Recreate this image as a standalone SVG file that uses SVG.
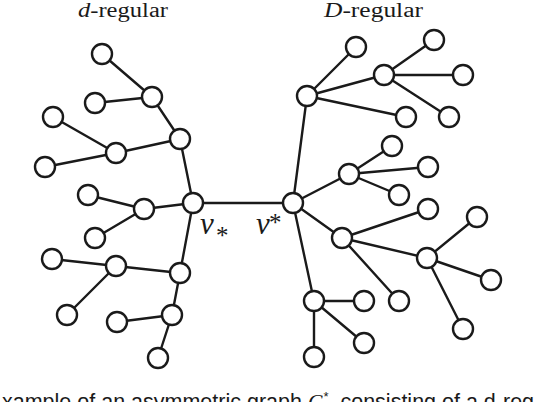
<svg xmlns="http://www.w3.org/2000/svg" width="536" height="402" viewBox="0 0 536 402">
<style>
.e{stroke:#1a1a1a;stroke-width:2.4;fill:none}
.n{fill:#fff;stroke:#1a1a1a;stroke-width:2.4}
.t{font-family:"Liberation Serif",serif;fill:#1a1a1a}
.c{font-family:"Liberation Sans",Arial,sans-serif;fill:#1a1a1a;font-size:21.5px}
</style>
<rect width="536" height="402" fill="#fff"/>
<g id="connectors">
<path class="e" d="M193,203H293
M102,54L152,97M95,103L152,97M152,97L180,139M53,117L116,153M45,167L116,153M116,153L180,139M180,139L193,203
M88,195L144,209M95,238L144,209M144,209L193,203
M193,203L180,273M52,259L116,266M116,266L180,273M116,266L67,315M180,273L172,315M117,322L172,315M172,315L158,358
M293,203L307,96M307,96L356,47M307,96L384,75M307,96L406,117M384,75L434,40M384,75L463,75M384,75L449,117
M293,203L349,174M349,174L392,146M349,174L428,167M349,174L399,195
M293,203L342,238M342,238L428,209M342,238L427,258M342,238L399,301M427,258L477,217M427,258L491,280M427,258L463,329
M293,203L314,301M314,301L364,301M314,301L364,343M314,301L314,357"/>
</g>
<g id="left-tree">
<circle class="n" cx="102" cy="54" r="10"/>
<circle class="n" cx="152" cy="97" r="10"/>
<circle class="n" cx="95" cy="103" r="10"/>
<circle class="n" cx="53" cy="117" r="10"/>
<circle class="n" cx="180" cy="139" r="10"/>
<circle class="n" cx="116" cy="153" r="10"/>
<circle class="n" cx="45" cy="167" r="10"/>
<circle class="n" cx="88" cy="195" r="10"/>
<circle class="n" cx="144" cy="209" r="10"/>
<circle class="n" cx="95" cy="238" r="10"/>
<circle class="n" cx="52" cy="259" r="10"/>
<circle class="n" cx="116" cy="266" r="10"/>
<circle class="n" cx="180" cy="273" r="10"/>
<circle class="n" cx="67" cy="315" r="10"/>
<circle class="n" cx="117" cy="322" r="10"/>
<circle class="n" cx="172" cy="315" r="10"/>
<circle class="n" cx="158" cy="358" r="10"/>
</g>
<g id="v-lower">
<circle class="n" cx="193" cy="203" r="10"/>
<text class="t" x="200" y="234" font-size="31" font-style="italic">v</text>
<text class="t" x="216" y="244" font-size="25">*</text>
</g>
<g id="v-upper">
<circle class="n" cx="293" cy="203" r="10"/>
<text class="t" x="256" y="234" font-size="31" font-style="italic">v</text>
<text class="t" x="269" y="231" font-size="25">*</text>
</g>
<g id="right-tree">
<circle class="n" cx="356" cy="47" r="10"/>
<circle class="n" cx="434" cy="40" r="10"/>
<circle class="n" cx="384" cy="75" r="10"/>
<circle class="n" cx="463" cy="75" r="10"/>
<circle class="n" cx="307" cy="96" r="10"/>
<circle class="n" cx="406" cy="117" r="10"/>
<circle class="n" cx="449" cy="117" r="10"/>
<circle class="n" cx="392" cy="146" r="10"/>
<circle class="n" cx="349" cy="174" r="10"/>
<circle class="n" cx="428" cy="167" r="10"/>
<circle class="n" cx="399" cy="195" r="10"/>
<circle class="n" cx="428" cy="209" r="10"/>
<circle class="n" cx="342" cy="238" r="10"/>
<circle class="n" cx="477" cy="217" r="10"/>
<circle class="n" cx="427" cy="258" r="10"/>
<circle class="n" cx="491" cy="280" r="10"/>
<circle class="n" cx="314" cy="301" r="10"/>
<circle class="n" cx="364" cy="301" r="10"/>
<circle class="n" cx="399" cy="301" r="10"/>
<circle class="n" cx="364" cy="343" r="10"/>
<circle class="n" cx="463" cy="329" r="10"/>
<circle class="n" cx="314" cy="357" r="10"/>
</g>
<g id="titles">
<text class="t" x="78" y="17" font-size="20" textLength="90" lengthAdjust="spacingAndGlyphs"><tspan font-style="italic">d</tspan>-regular</text>
<text class="t" x="324" y="17" font-size="20" textLength="99" lengthAdjust="spacingAndGlyphs"><tspan font-style="italic">D</tspan>-regular</text>
</g>
<text class="c" x="2" y="409">xample of an asymmetric graph <tspan font-family="Liberation Serif,serif" font-style="italic">G</tspan><tspan font-size="13" dy="-8">*</tspan><tspan dy="8">, consisting of a d-reg</tspan></text>
</svg>
